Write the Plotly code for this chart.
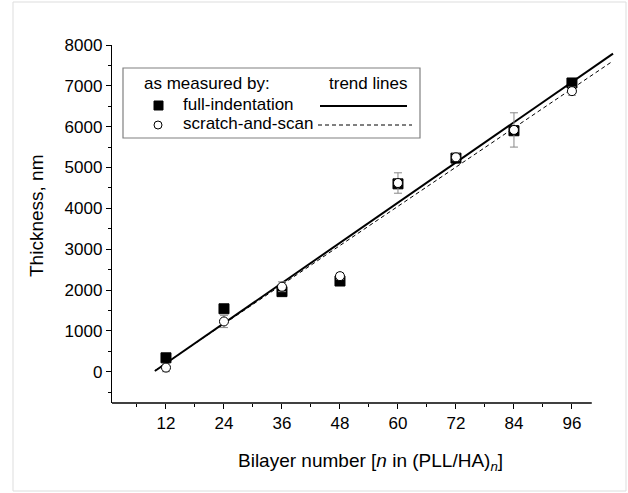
import plotly.graph_objects as go

# ---- data ----
bilayers = [12, 24, 36, 48, 60, 72, 84, 96]
full_indentation = [340, 1540, 1960, 2220, 4600, 5230, 5900, 7070]
scratch_and_scan = [100, 1230, 2080, 2340, 4620, 5250, 5920, 6870]
scratch_err = [100, 150, 120, 80, 250, 80, 420, 100]

trend_x = [9.7, 104.5]
full_slope, full_intercept = 82.0, -780.0
scratch_slope, scratch_intercept = 80.0, -750.0

x_major = [12, 24, 36, 48, 60, 72, 84, 96]
x_minor = [6, 18, 30, 42, 54, 66, 78, 90]
y_major = [0, 1000, 2000, 3000, 4000, 5000, 6000, 7000, 8000]

W, H = 628, 493
L, R, T, B = 112, 614, 45, 403
XR = [0.83, 104.7]
YR = [-767, 8000]
FONT = "Arial, Liberation Sans, sans-serif"


def px(xp):
    return (xp - L) / (R - L)


def py(yp):
    return (B - yp) / (B - T)


fig = go.Figure()

fig.add_trace(go.Scatter(
    x=trend_x, y=[full_intercept + full_slope * v for v in trend_x],
    mode="lines", line=dict(color="black", width=2), showlegend=False))
fig.add_trace(go.Scatter(
    x=trend_x, y=[scratch_intercept + scratch_slope * v for v in trend_x],
    mode="lines", line=dict(color="black", width=1, dash="4px,3px"), showlegend=False))

fig.add_trace(go.Scatter(
    x=bilayers, y=full_indentation, mode="markers",
    marker=dict(symbol="square", size=10, color="black", line=dict(color="black", width=1)),
    showlegend=False))
fig.add_trace(go.Scatter(
    x=bilayers, y=scratch_and_scan, mode="markers",
    marker=dict(symbol="circle", size=9, color="white", line=dict(color="black", width=1)),
    error_y=dict(type="data", array=scratch_err, color="#888888", thickness=1, width=4),
    showlegend=False))

shapes = []
# x axis line (shorter than plotted range)
shapes.append(dict(type="line", xref="x", yref="paper", x0=XR[0], x1=100.1, y0=0, y1=0,
                   line=dict(color="black", width=1.3)))
# outer light frame
shapes.append(dict(type="rect", xref="paper", yref="paper",
                   x0=px(13), x1=px(626), y0=py(491), y1=py(2),
                   line=dict(color="#dddddd", width=1)))
# legend box
shapes.append(dict(type="rect", xref="paper", yref="paper",
                   x0=px(123), x1=px(420), y0=py(138), y1=py(68),
                   line=dict(color="#808080", width=1.2), fillcolor="white", layer="above"))
# legend line samples
shapes.append(dict(type="line", xref="paper", yref="paper",
                   x0=px(320), x1=px(407), y0=py(106), y1=py(106),
                   line=dict(color="black", width=2), layer="above"))
shapes.append(dict(type="line", xref="paper", yref="paper",
                   x0=px(318), x1=px(412), y0=py(125), y1=py(125),
                   line=dict(color="black", width=1, dash="4px,3px"), layer="above"))
# legend markers
shapes.append(dict(type="rect", xref="paper", yref="paper",
                   x0=px(154), x1=px(163), y0=py(110), y1=py(101),
                   line=dict(color="black", width=1), fillcolor="black", layer="above"))
shapes.append(dict(type="circle", xref="paper", yref="paper",
                   x0=px(154), x1=px(162), y0=py(129), y1=py(121),
                   line=dict(color="black", width=1), fillcolor="white", layer="above"))

annotations = [
    dict(text="as measured by:", x=px(142), y=py(84), xanchor="left", yanchor="middle"),
    dict(text="trend lines", x=px(327), y=py(84), xanchor="left", yanchor="middle"),
    dict(text="full-indentation", x=px(181), y=py(104), xanchor="left", yanchor="middle"),
    dict(text="scratch-and-scan", x=px(181), y=py(124), xanchor="left", yanchor="middle"),
    dict(text="Thickness, nm", x=px(36), y=py(216), textangle=-90, xanchor="center",
         yanchor="middle", font=dict(size=19, family=FONT, color="black")),
    dict(text="Bilayer number [<i>n</i> in (PLL/HA)<sub><i>n</i></sub>]", x=px(370), y=py(462),
         xanchor="center", yanchor="middle", font=dict(size=19, family=FONT, color="black")),
]
for a in annotations:
    a.setdefault("font", dict(size=17, family=FONT, color="black"))
    a.update(xref="paper", yref="paper", showarrow=False)

fig.update_layout(
    width=W, height=H,
    margin=dict(l=L, r=W - R, t=T, b=H - B, pad=0),
    paper_bgcolor="white", plot_bgcolor="white",
    font=dict(family=FONT, size=17, color="black"),
    shapes=shapes, annotations=annotations,
    xaxis=dict(range=XR, showline=False, showgrid=False, zeroline=False,
               tickvals=x_major, ticks="outside", ticklen=5, tickwidth=1, tickcolor="black",
               minor=dict(tickvals=x_minor, ticks="outside", ticklen=3, tickwidth=1, tickcolor="black"),
               tickfont=dict(size=17)),
    yaxis=dict(range=YR, showline=True, linecolor="black", linewidth=1.3, mirror=False,
               showgrid=False, zeroline=False,
               tickvals=y_major, ticks="outside", ticklen=5, tickwidth=1, tickcolor="black",
               minor=dict(dtick=500, tick0=500, ticks="outside", ticklen=3, tickwidth=1,
                          tickcolor="black", showgrid=False),
               tickfont=dict(size=17)),
)

fig.write_html("out.html", config={"displayModeBar": False},
               post_script="document.body.style.margin='0';")
